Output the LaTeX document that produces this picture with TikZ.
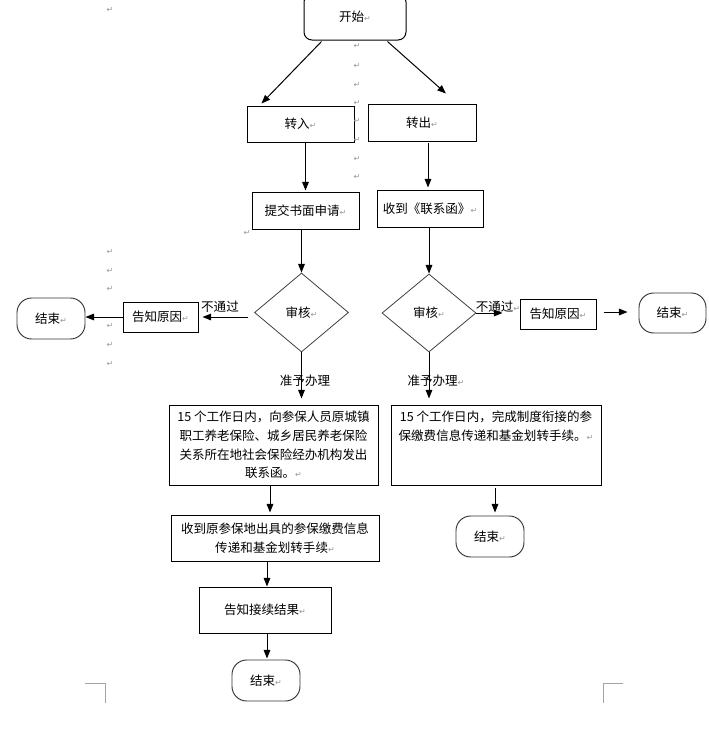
\documentclass[tikz,border=0pt]{standalone}
\usepackage{fontspec}
\setmainfont{Noto Sans CJK SC}
\newfontfamily\dejavu{DejaVu Sans}
\usetikzlibrary{arrows.meta,shapes.geometric,calc}
\definecolor{pmgray}{RGB}{150,150,150}
\definecolor{cropgray}{RGB}{165,165,165}
\newcommand\pmk{{\dejavu\color{pmgray}\fontsize{6}{6}\selectfont ↵}}
\begin{document}
\begin{tikzpicture}[x=0.75pt,y=-0.75pt,
  font=\fontsize{9.4}{14}\selectfont,
  sz/.style 2 args={minimum width=#1*0.75pt,minimum height=#2*0.75pt},
  box/.style={draw,line width=0.75pt,inner sep=0,align=center},
  term/.style={draw=black!80,line width=0.7pt,rounded corners=11pt,inner sep=0},
  dia/.style={diamond,draw=black!75,line width=0.6pt,inner sep=0},
  txt/.style={inner sep=0,align=center},
  pm/.style={inner sep=0,font=\dejavu\fontsize{6}{6}\selectfont,text=pmgray},
  arr/.style={line width=0.75pt,-{Triangle[length=6.5pt,width=5pt]}},
  crop/.style={draw=cropgray,line width=0.75pt}]
\useasboundingbox (0,0) rectangle (709,751);

% nodes
\node[box,rounded corners=6pt,sz={102}{46}] (st) at (355,17) {开始\pmk};
\node[box,sz={107}{36}] (zr) at (300.5,124) {转入\pmk};
\node[box,sz={108}{37}] (zc) at (422,122.5) {转出\pmk};
\node[box,sz={107}{37}] (tj) at (305.5,210.5) {提交书面申请\pmk};
\node[box,sz={106}{37}] (sd) at (430,208.5) {收到《联系函》\pmk};
\node[dia,sz={94}{79}] (dl) at (301.5,312.5) {审核\pmk};
\node[dia,sz={94}{78}] (dr) at (429,313) {审核\pmk};
\node[box,sz={75}{30}] (gl) at (160.5,317) {告知原因\pmk};
\node[term,sz={68}{41}] (el) at (51,318.5) {结束\pmk};
\node[box,sz={76}{30}] (gr) at (558,314) {告知原因\pmk};
\node[term,sz={67}{40}] (er) at (672.5,313) {结束\pmk};
\node[box,sz={209}{80}] (bl) at (273.5,445) {15 个工作日内，向参保人员原城镇\\职工养老保险、城乡居民养老保险\\关系所在地社会保险经办机构发出\\联系函。\pmk};
\node[box,sz={210}{80}] (br) at (496,445) {};
\node[txt,anchor=north] (brt) at (496,411) {15 个工作日内，完成制度衔接的参\\保缴费信息传递和基金划转手续。\pmk};
\node[box,sz={208}{46}] (ml) at (275,538) {收到原参保地出具的参保缴费信息\\传递和基金划转手续\pmk};
\node[box,sz={132}{46}] (gk) at (265,610) {告知接续结果\pmk};
\node[term,sz={68}{41}] (eb) at (266,680.5) {结束\pmk};
\node[term,sz={68}{41}] (ebr) at (490,536.5) {结束\pmk};

% connectors
\draw[arr] ($(st.south west)+(18,1)$) -- ($(zr.north west)+(15,-2)$);
\draw[arr] ($(st.south east)+(-19,1)$) -- ($(zc.north)+(24,-10)$);
\draw[arr] (tj.north |- zr.south) -- ($(tj.north)+(0,-1)$);
\draw[arr] ($(zc.south)+(6,1)$) -- ($(sd.north)+(-2,-2)$);
\draw[arr] (dl.north |- tj.south) -- (dl.north);
\draw[arr] (dr.north |- sd.south) -- (dr.north);
\draw[arr] ($(dl.west)+(-6,4.5)$) -- ($(gl.east)+(4,0)$);
\draw[arr] (gl.west) -- (el.east |- gl.west);
\draw[arr] (dr.east) -- ($(gr.west)+(-17,-1)$);
\draw[arr] ($(gr.east)+(7,-2)$) -- ($(er.west)+(-11,-1)$);
\draw[arr] (dl.south) -- ($(dl.south |- bl.north)+(0,-6)$);
\draw[arr] (dr.south) -- ($(dr.south |- br.north)+(0,-6)$);
\draw[arr] ($(bl.south)+(-3.5,0)$) -- ($(ml.north)+(-5,-2)$);
\draw[arr] ($(ml.south)+(-8,0)$) -- ($(gk.north)+(2,0)$);
\draw[arr] ($(gk.south)+(2,0)$) -- ($(eb.north)+(1,-1)$);
\draw[arr] ($(br.south)+(-1,2)$) -- ($(ebr.north)+(5,-3)$);

% edge labels
\node[txt] (nl) at (220,307) {不通过};
\node[txt] (nr) at (498,307) {不通过\pmk};
\node[txt] (yl) at (305,381) {准予办理};
\node[txt] (yr) at (436,381) {准予办理\pmk};

% paragraph marks
\node[pm] (p0) at (110,10) {↵};
\foreach \y [count=\i] in {46,66,85,103,121,140,159,177}
  \node[pm] (pc\i) at (357,\y) {↵};
\node[pm] (pt) at (247,233) {↵};
\foreach \y [count=\i] in {252,271,289,326,345,364}
  \node[pm] (pl\i) at (110,\y) {↵};

% crop marks
\draw[crop] (85,683) -- (105,683) -- (105,703);
\draw[crop] (603,703) -- (603,683) -- (623,683);
\end{tikzpicture}
\end{document}
